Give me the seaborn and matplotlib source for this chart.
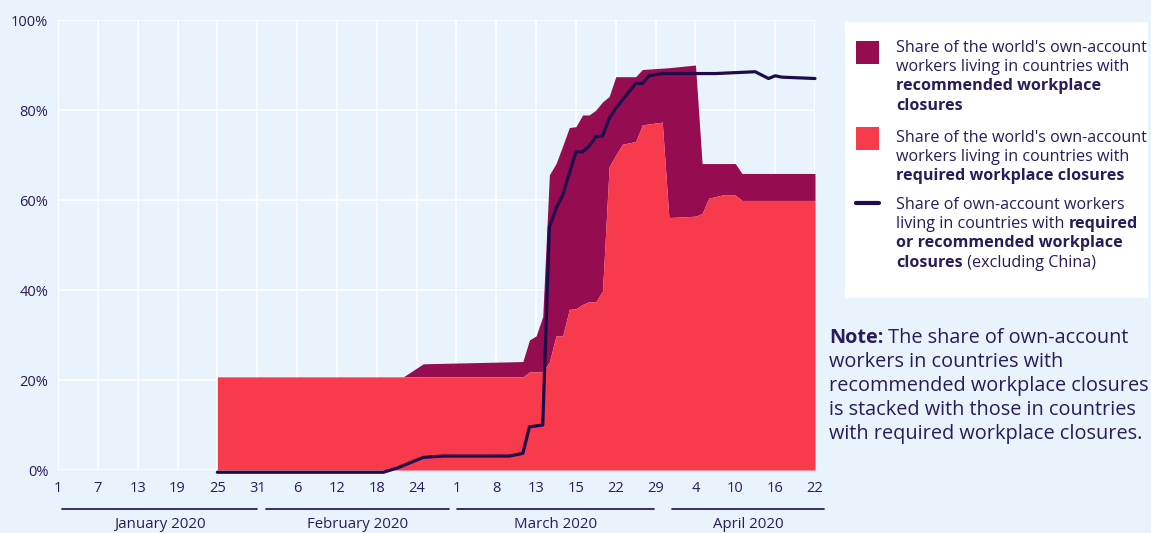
import numpy as np
import pandas as pd
import matplotlib.pyplot as plt
import seaborn as sns
from matplotlib.patches import Rectangle
from matplotlib.lines import Line2D

################ DATA ################

tick_labels = ['1', '7', '13', '19', '25', '31', '6', '12', '18', '24',
               '1', '8', '13', '15', '22', '29', '4', '10', '16', '22']
months = ['January 2020', 'February 2020', 'March 2020', 'April 2020']

# position on the category axis (ticks every 6 steps)
area_x = [24, 52, 55, 70, 71, 72, 73, 74, 75, 76, 77, 78, 79, 80, 81,
          82, 83, 84, 85, 87, 88, 91, 92, 96, 97, 98, 100, 102, 103, 114]
required = [20.7, 20.7, 20.7, 20.7, 21.8, 21.8, 21.8, 24.0, 29.8, 29.8,
            35.7, 35.8, 36.8, 37.4, 37.4, 39.8, 67.4, 70.0, 72.4, 73.0,
            76.7, 77.3, 56.1, 56.4, 57.0, 60.4, 61.1, 61.1, 59.9, 59.9]
recommended = [0.0, 0.0, 2.9, 3.4, 7.1, 8.0, 12.3, 41.6, 38.3, 42.2,
               40.4, 40.5, 42.1, 41.5, 42.6, 42.0, 15.6, 17.4, 15.0, 14.4,
               12.3, 12.0, 33.3, 33.6, 11.1, 7.7, 7.0, 7.0, 6.0, 6.0]

line_x = [24, 49, 51, 55, 58, 68, 70, 71, 73, 74, 75, 76, 78, 79, 80,
          81, 82, 83, 84, 87, 88, 89, 91, 99, 105, 107, 108, 109, 114]
excl_china = [-0.5, -0.5, 0.4, 2.8, 3.1, 3.1, 3.7, 9.6, 10.0, 54.0, 58.1,
              61.1, 70.7, 70.7, 72.0, 74.1, 74.2, 78.1, 80.4, 85.9, 85.9,
              87.6, 88.1, 88.1, 88.5, 87.0, 87.6, 87.3, 87.0]

################ STYLE ################

BG = '#E8F3FC'
TEXT = '#2A1B5A'
RED = '#F83B4C'
DARK = '#960C51'
NAVY = '#1D0B4C'
W, H = 1151, 533

sns.set_theme(style='darkgrid', rc={
    'axes.facecolor': BG,
    'figure.facecolor': BG,
    'grid.color': 'white',
    'grid.linewidth': 1.2,
})
plt.rcParams['font.family'] = ['Open Sans', 'Noto Sans', 'DejaVu Sans']


def fx(px):
    return px / W


def fy(py):
    return 1 - py / H


fig = plt.figure(figsize=(W / 100, H / 100), dpi=100)
ax = fig.add_axes([fx(58), 63 / H, 757 / W, 450 / H])

################ AREAS + LINE ################

top = np.array(required) + np.array(recommended)
ax.fill_between(area_x, required, top, color=DARK, lw=0)
ax.fill_between(area_x, 0, required, color=RED, lw=0)

line_df = pd.DataFrame({'x': line_x, 'y': excl_china})
sns.lineplot(data=line_df, x='x', y='y', ax=ax, color=NAVY, lw=2.3,
             clip_on=False, zorder=5)

ax.set_xlim(0, 114)
ax.set_ylim(0, 100)
ax.set_xticks(np.arange(len(tick_labels)) * 6, tick_labels)
ax.set_yticks(range(0, 101, 20), [f'{v}%' for v in range(0, 101, 20)])
ax.tick_params(length=0, labelsize=10.5, colors=TEXT)
ax.tick_params(axis='x', pad=8)
ax.tick_params(axis='y', pad=7)
ax.set_xlabel('')
ax.set_ylabel('')
for s in ax.spines.values():
    s.set_visible(False)

# month groups under the tick labels
month_spans = [(0.6, 30), (31.3, 58.9), (60.1, 89.8), (92.5, 115.4)]
trans = ax.get_xaxis_transform()
for name, (x0, x1) in zip(months, month_spans):
    ax.plot([x0, x1], [-0.087, -0.087], transform=trans, clip_on=False,
            color=NAVY, lw=1.2)
    ax.text((x0 + x1) / 2, -0.122, name, transform=trans, ha='center',
            va='center', fontsize=10.8, color=TEXT)

################ LEGEND (drawn by hand for mixed bold text) ################

fig.add_artist(Rectangle((fx(845), fy(298)), fx(1148 - 845), (298 - 22) / H,
                         transform=fig.transFigure, facecolor='white',
                         edgecolor='none', zorder=-1))
fig.add_artist(Rectangle((fx(856), fy(64)), fx(23), 23 / H,
                         transform=fig.transFigure, facecolor=DARK,
                         edgecolor='none'))
fig.add_artist(Rectangle((fx(856), fy(150)), fx(23), 23 / H,
                         transform=fig.transFigure, facecolor=RED,
                         edgecolor='none'))
fig.add_artist(Line2D([fx(856), fx(879)], [fy(203), fy(203)],
                      transform=fig.transFigure, color=NAVY, lw=3))


def text_line(x, y, parts, size, color=TEXT):
    prev = None
    for txt, weight in parts:
        if prev is None:
            prev = ax.annotate(txt, xy=(fx(x), fy(y)),
                               xycoords='figure fraction', va='baseline',
                               ha='left', fontsize=size, fontweight=weight,
                               color=color, annotation_clip=False)
        else:
            prev = ax.annotate(txt, xy=(1, 0), xycoords=prev, va='bottom',
                               ha='left', fontsize=size, fontweight=weight,
                               color=color, annotation_clip=False)


N, B = 'normal', 'bold'
legend_lines = [
    (52.0, [("Share of the world's own-account", N)]),
    (71.2, [("workers living in countries with", N)]),
    (90.4, [("recommended workplace", B)]),
    (109.6, [("closures", B)]),
    (142.0, [("Share of the world's own-account", N)]),
    (161.3, [("workers living in countries with", N)]),
    (180.3, [("required workplace closures", B)]),
    (208.7, [("Share of own-account workers", N)]),
    (228.0, [("living in countries with ", N), ("required", B)]),
    (247.0, [("or recommended workplace", B)]),
    (267.0, [("closures", B), (" (excluding China)", N)]),
]
for y, parts in legend_lines:
    text_line(896, y, parts, 11.6)

note_lines = [
    (343, [("Note:", B), (" The share of own-account", N)]),
    (367, [("workers in countries with", N)]),
    (391, [("recommended workplace closures", N)]),
    (415, [("is stacked with those in countries", N)]),
    (439, [("with required workplace closures.", N)]),
]
for y, parts in note_lines:
    text_line(829, y, parts, 14.3)

fig.savefig('out.png', dpi=100, facecolor=BG)
